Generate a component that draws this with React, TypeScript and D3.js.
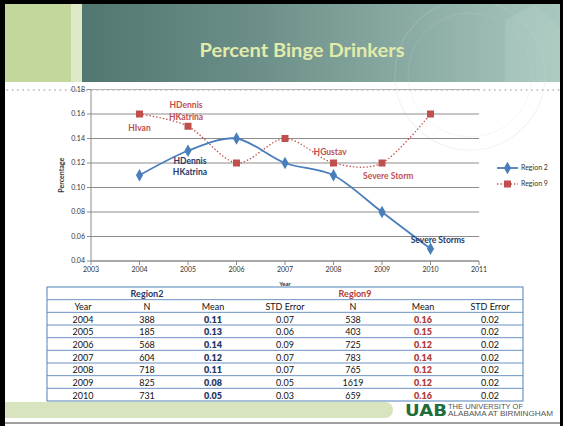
import React from "react";
import * as d3 from "d3";

const years = [2004, 2005, 2006, 2007, 2008, 2009, 2010];
const region2 = [0.11, 0.13, 0.14, 0.12, 0.11, 0.08, 0.05];
const region9 = [0.16, 0.15, 0.12, 0.14, 0.12, 0.12, 0.16];
const n2 = [388, 185, 568, 604, 718, 825, 731];
const se2 = ["0.07", "0.06", "0.09", "0.07", "0.07", "0.05", "0.03"];
const n9 = [538, 403, 725, 783, 765, 1619, 659];
const se9 = ["0.02", "0.02", "0.02", "0.02", "0.02", "0.02", "0.02"];
const xTicks = [2003, 2004, 2005, 2006, 2007, 2008, 2009, 2010, 2011];
const yTicks = [0.04, 0.06, 0.08, 0.1, 0.12, 0.14, 0.16, 0.18];
const seriesNames = ["Region 2", "Region 9"];

const RED = "#c0504d";
const BLUE = "#4a7ebb";
const NAVY = "#1f3864";
const TRED = "#b03c38";

const annotations = [
  { text: "HIvan", year: 2004, value: 0.1488, color: RED },
  { text: "HDennis", year: 2004.96, value: 0.1673, color: RED },
  { text: "HKatrina", year: 2004.96, value: 0.1573, color: RED },
  { text: "HDennis", year: 2005.04, value: 0.1216, color: NAVY },
  { text: "HKatrina", year: 2005.04, value: 0.1124, color: NAVY },
  { text: "HGustav", year: 2007.93, value: 0.1292, color: RED },
  { text: "Severe Storm", year: 2009.13, value: 0.1096, color: RED },
  { text: "Severe Storms", year: 2010.15, value: 0.0571, color: NAVY },
];

const FONT = "Lato, 'Open Sans', sans-serif";

export default function App() {
  const W = 563, H = 426;
  const x = d3.scaleLinear().domain([2003, 2011]).range([91, 479]);
  const y = d3.scaleLinear().domain([0.04, 0.18]).range([261, 89.5]);
  const curve = d3.curveCardinal.tension(0.1);
  const line = d3.line<number>().x((_, i) => x(years[i])).y((d) => y(d)).curve(curve);

  const dots = d3.range(2, W, 5.3);

  const tTop = 287, tBot = 401, tLeft = 47, tRight = 523;
  const nRows = 9;
  const rowH = (tBot - tTop) / nRows;
  const rowY = d3.range(nRows + 1).map((i) => tTop + i * rowH);
  const colX = [83, 147, 213, 285, 353, 423, 490];
  const hdr = ["Year", "N", "Mean", "STD Error", "N", "Mean", "STD Error"];

  const diamond = d3.symbol().type(d3.symbolDiamond).size(44)();

  return (
    <svg width={W} height={H} style={{ display: "block", position: "absolute", left: 0, top: 0 }}>
      <defs>
        <linearGradient id="hdr" x1="0" x2="1" y1="0" y2="0">
          <stop offset="0" stopColor="#466b66" />
          <stop offset="0.45" stopColor="#6b8f88" />
          <stop offset="1" stopColor="#a9c8bf" />
        </linearGradient>
      </defs>
      <rect x={0} y={0} width={W} height={H} fill="#fff" />
      <rect x={5} y={4} width={W - 5} height={78} fill="url(#hdr)" />
      <rect x={5} y={4} width={66} height={78} fill="#c3d69b" />
      <rect x={71} y={4} width={11} height={78} fill="#dde8c6" />
      <circle cx={470} cy={75} r={75} fill="none" stroke="#c2d8d0" strokeOpacity={0.25} strokeWidth={1.2} />
      <circle cx={470} cy={75} r={62} fill="none" stroke="#c2d8d0" strokeOpacity={0.2} strokeWidth={1} />
      <path d="M505,82 L505,20 L535,4 L563,30 L563,82 Z" fill="#bfd6ce" opacity={0.25} />
      <text x={302} y={57} textAnchor="middle" fontFamily={FONT} fontWeight={700} fontSize={19} fill="#e2ebaa" textLength={205} lengthAdjust="spacingAndGlyphs">
        Percent Binge Drinkers
      </text>
      {dots.map((d, i) => (
        <circle key={i} cx={d} cy={90} r={1} fill="#c4c4c4" />
      ))}
      {yTicks.map((t) => (
        <line key={t} x1={91} x2={479} y1={y(t)} y2={y(t)} stroke={t === 0.18 ? "#b5b5b5" : "#8c8c8c"} strokeWidth={1} />
      ))}
      <line x1={91} x2={91} y1={y(0.18)} y2={y(0.04)} stroke="#8c8c8c" />
      <line x1={91} x2={479} y1={y(0.04)} y2={y(0.04)} stroke="#8c8c8c" />
      {yTicks.map((t) => (
        <g key={"yt" + t}>
          <line x1={87} x2={91} y1={y(t)} y2={y(t)} stroke="#8c8c8c" />
          <text x={85} y={y(t)} dy="0.35em" textAnchor="end" fontFamily={FONT} fontSize={7} fill="#333">
            {d3.format(".2f")(t)}
          </text>
        </g>
      ))}
      {xTicks.map((t) => (
        <g key={"xt" + t}>
          <line x1={x(t)} x2={x(t)} y1={y(0.04)} y2={y(0.04) + 4} stroke="#8c8c8c" />
          <text x={x(t)} y={y(0.04) + 11} textAnchor="middle" fontFamily={FONT} fontSize={7} fill="#333">
            {t}
          </text>
        </g>
      ))}
      <text x={285} y={286} textAnchor="middle" fontFamily={FONT} fontWeight={700} fontSize={6} fill="#333">Year</text>
      <text transform={`translate(64,${y(0.11)}) rotate(-90)`} textAnchor="middle" fontFamily={FONT} fontWeight={700} fontSize={7} fill="#333">
        Percentage
      </text>
      <path d={line(region9) || ""} fill="none" stroke={RED} strokeWidth={1.3} strokeDasharray="1.4,2" />
      <path d={line(region2) || ""} fill="none" stroke={BLUE} strokeWidth={1.8} />
      {region9.map((v, i) => (
        <rect key={"r9" + i} x={x(years[i]) - 3.5} y={y(v) - 3.5} width={7} height={7} fill={RED} />
      ))}
      {region2.map((v, i) => (
        <path key={"r2" + i} d={diamond || ""} transform={`translate(${x(years[i])},${y(v)})`} fill={BLUE} />
      ))}
      {annotations.map((a, i) => (
        <text key={"a" + i} x={x(a.year)} y={y(a.value)} dy="0.35em" textAnchor="middle" fontFamily={FONT} fontWeight={700} fontSize={8.5} fill={a.color}>
          {a.text}
        </text>
      ))}
      <line x1={497} x2={518} y1={168} y2={168} stroke={BLUE} strokeWidth={1.8} />
      <path d={diamond || ""} transform="translate(507.5,168)" fill={BLUE} />
      <text x={521} y={168} dy="0.35em" fontFamily={FONT} fontSize={7} fill="#333">{seriesNames[0]}</text>
      <line x1={497} x2={518} y1={184} y2={184} stroke={RED} strokeWidth={1.3} strokeDasharray="1.4,2" />
      <rect x={504} y={180.5} width={7} height={7} fill={RED} />
      <text x={521} y={184} dy="0.35em" fontFamily={FONT} fontSize={7} fill="#333">{seriesNames[1]}</text>

      <path d="M5,402 H385 A8,8 0 0 1 393,410 A8,8 0 0 1 385,418 H5 Z" fill="#d7e4bd" />
      <rect x={tLeft} y={tTop} width={tRight - tLeft} height={tBot - tTop} fill="#fff" stroke="#4f81bd" strokeWidth={1} />
      {rowY.slice(1, -1).map((ry, i) => (
        <line key={"rl" + i} x1={tLeft} x2={tRight} y1={ry} y2={ry} stroke="#5b84bd" strokeWidth={0.9} />
      ))}
      <text x={147} y={rowY[0] + rowH / 2 + 1} dy="0.35em" textAnchor="middle" fontFamily={FONT} fontWeight={700} fontSize={9} fill={NAVY}>Region2</text>
      <text x={355} y={rowY[0] + rowH / 2 + 1} dy="0.35em" textAnchor="middle" fontFamily={FONT} fontWeight={700} fontSize={9} fill={TRED}>Region9</text>
      {hdr.map((h, i) => (
        <text key={"h" + i} x={colX[i]} y={rowY[1] + rowH / 2 + 1} dy="0.35em" textAnchor="middle" fontFamily={FONT} fontSize={9} fill="#111">{h}</text>
      ))}
      {years.map((yr, r) => {
        const cy = rowY[r + 2] + rowH / 2 + 1;
        const cells = [
          { v: String(yr), b: false, c: "#111" },
          { v: String(n2[r]), b: false, c: "#111" },
          { v: d3.format(".2f")(region2[r]), b: true, c: NAVY },
          { v: se2[r], b: false, c: "#111" },
          { v: String(n9[r]), b: false, c: "#111" },
          { v: d3.format(".2f")(region9[r]), b: true, c: TRED },
          { v: se9[r], b: false, c: "#111" },
        ];
        return cells.map((c, i) => (
          <text key={"c" + r + "_" + i} x={colX[i]} y={cy} dy="0.35em" textAnchor="middle" fontFamily={FONT} fontWeight={c.b ? 800 : 400} fontSize={9} fill={c.c}>
            {c.v}
          </text>
        ));
      })}
      <text x={405} y={416} fontFamily="'DejaVu Sans', sans-serif" fontWeight={900} fontSize={15} fill="#1e6e3a" textLength={42} lengthAdjust="spacingAndGlyphs">UAB</text>
      <text x={448} y={409} fontFamily="'Liberation Sans', sans-serif" fontSize={7} fill="#555" textLength={75} lengthAdjust="spacingAndGlyphs">THE UNIVERSITY OF</text>
      <text x={448} y={416} fontFamily="'Liberation Sans', sans-serif" fontSize={7} fill="#555" textLength={105} lengthAdjust="spacingAndGlyphs">ALABAMA AT BIRMINGHAM</text>
      <line x1={0} x2={W} y1={423} y2={423} stroke="#808080" strokeWidth={1.5} />
      <rect x={0} y={0} width={W} height={4} fill="#000" />
      <rect x={0} y={0} width={5} height={H} fill="#000" />
      <rect x={560} y={0} width={3} height={H} fill="#000" />
    </svg>
  );
}
